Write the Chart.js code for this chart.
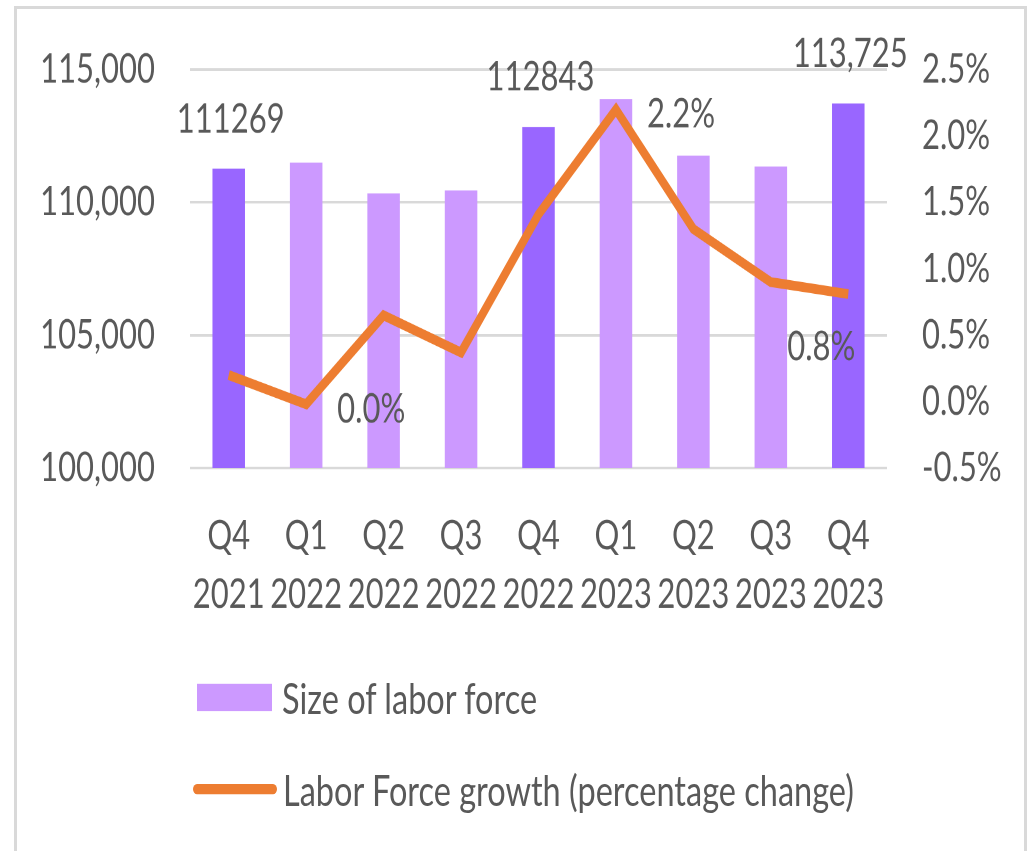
<!DOCTYPE html>
<html>
<head>
<meta charset="utf-8">
<script src="https://cdn.jsdelivr.net/npm/chart.js@4.4.1/dist/chart.umd.min.js"></script>
<style>
  html, body { margin: 0; padding: 0; background: #fff; }
  body { width: 1029px; height: 851px; position: relative; overflow: hidden; font-family: Lato, sans-serif; }
  #frame { position: absolute; left: 14px; top: 6px; width: 1013px; height: 900px;
           border: 3px solid #d9d9d9; box-sizing: border-box; }
  /* the reference text is tall and narrow, so the whole drawing is stretched vertically */
  #stretch { position: absolute; left: 0; top: 0; width: 1029px; height: 655px;
             transform: scaleY(1.3); transform-origin: 0 0; }
  #wrap { position: absolute; left: 0; top: 0; width: 1029px; height: 492px; }
  .leg { position: absolute; height: 30px; display: flex; align-items: center;
         font-size: 32.5px; color: #595959; white-space: nowrap; }
  .sw { display: inline-block; }
</style>
</head>
<body>
<div id="frame"></div>
<div id="stretch">
  <div id="wrap"><canvas id="chart" width="1029" height="492"></canvas></div>
  <div class="leg" style="top:521px;left:197px"><span class="sw" style="width:75px;height:21px;background:#cc99ff;margin-right:10px"></span>Size of labor force</div>
  <div class="leg" style="top:592px;left:193px"><span class="sw" style="width:84px;height:8.5px;border-radius:5px;background:#ed7d31;margin-right:6px"></span>Labor Force growth (percentage change)</div>
</div>
<script>
// categories and values
const categories = [['Q4', '2021'], ['Q1', '2022'], ['Q2', '2022'], ['Q3', '2022'], ['Q4', '2022'],
                    ['Q1', '2023'], ['Q2', '2023'], ['Q3', '2023'], ['Q4', '2023']];
const laborForce = [111269, 111500, 110340, 110450, 112843, 113900, 111760, 111350, 113725];
const growthPct = [0.2, -0.02, 0.65, 0.37, 1.41, 2.2, 1.3, 0.9, 0.81];
const barLabels = ['111269', null, null, null, '112843', null, null, null, '113,725'];
const lineLabels = [null, '0.0%', null, null, null, '2.2%', null, null, '0.8%'];
const leftTicks = [100000, 105000, 110000, 115000];
const rightTicks = [-0.5, 0, 0.5, 1, 1.5, 2, 2.5];

const FONT = 'Lato, sans-serif';
const TEXT = '#595959';
const barColors = categories.map(c => c[0] === 'Q4' ? '#9966ff' : '#cc99ff');

// data labels next to a few of the marks
const labelPlugin = {
  id: 'labels',
  afterDatasetsDraw(chart) {
    const ctx = chart.ctx;
    ctx.save();
    ctx.font = '31px ' + FONT;
    ctx.fillStyle = TEXT;
    ctx.textBaseline = 'middle';
    const bars = chart.getDatasetMeta(0).data;
    const pts = chart.getDatasetMeta(1).data;
    barLabels.forEach((t, i) => {
      if (!t) return;
      ctx.textAlign = 'center';
      ctx.fillText(t, bars[i].x + 2, bars[i].y - 38);
    });
    lineLabels.forEach((t, i) => {
      if (!t) return;
      const p = pts[i];
      if (i === 8) {
        ctx.textAlign = 'center';
        ctx.fillText(t, p.x - 27, p.y + 41);
      } else {
        ctx.textAlign = 'left';
        ctx.fillText(t, p.x + 31, p.y + 4);
      }
    });
    ctx.restore();
  }
};

const chart = new Chart(document.getElementById('chart').getContext('2d'), {
  type: 'bar',
  data: {
    labels: categories,
    datasets: [{
      type: 'bar',
      label: 'Size of labor force',
      data: laborForce,
      backgroundColor: barColors,
      barPercentage: 0.42,
      categoryPercentage: 1,
      yAxisID: 'y',
      order: 2
    }, {
      type: 'line',
      label: 'Labor Force growth (percentage change)',
      data: growthPct,
      borderColor: '#ed7d31',
      borderWidth: 7.5,
      borderJoinStyle: 'miter',
      borderCapStyle: 'butt',
      pointRadius: 0,
      tension: 0,
      yAxisID: 'y1',
      order: 1
    }]
  },
  options: {
    responsive: false,
    animation: false,
    devicePixelRatio: 2,
    layout: { padding: { top: 51.5, left: 0, right: 0, bottom: 0 } },
    plugins: { legend: { display: false }, tooltip: { enabled: false } },
    scales: {
      x: {
        grid: { display: false },
        border: { display: false },
        ticks: { color: TEXT, font: { family: FONT, size: 31, lineHeight: 1.45 }, padding: 22, maxRotation: 0, autoSkip: false },
        afterFit(s) { s.height = 132; }
      },
      y: {
        position: 'left',
        min: 100000,
        max: 115000,
        afterBuildTicks(s) { s.ticks = leftTicks.map(v => ({ value: v })); },
        grid: { color: '#d9d9d9', lineWidth: 2, drawTicks: false },
        border: { display: false },
        ticks: {
          color: TEXT, font: { family: FONT, size: 31 }, padding: 35,
          callback: v => v.toLocaleString('en-US')
        },
        afterFit(s) { s.width = 190; }
      },
      y1: {
        position: 'right',
        min: -0.5,
        max: 2.5,
        afterBuildTicks(s) { s.ticks = rightTicks.map(v => ({ value: v })); },
        grid: { display: false, drawTicks: false },
        border: { display: false },
        ticks: {
          color: TEXT, font: { family: FONT, size: 31 }, padding: 35,
          callback: v => v.toFixed(1) + '%'
        },
        afterFit(s) { s.width = 142; }
      }
    }
  },
  plugins: [labelPlugin]
});
</script>
</body>
</html>
